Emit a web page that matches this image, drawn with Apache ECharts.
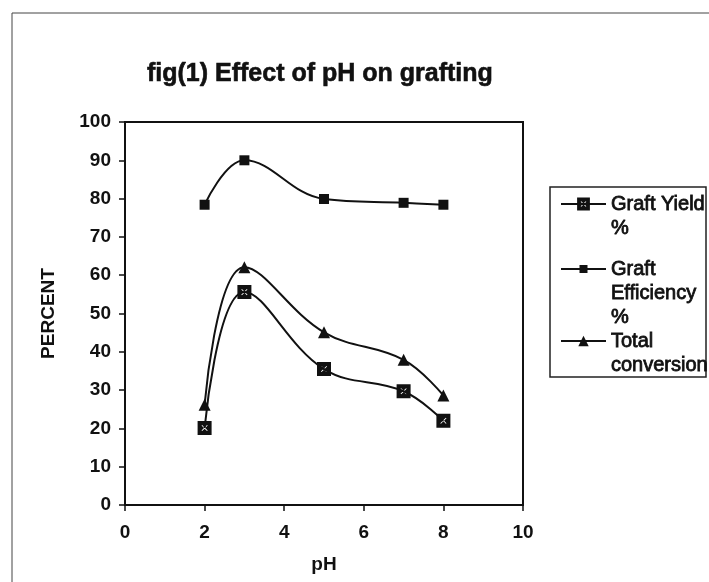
<!DOCTYPE html>
<html>
<head>
<meta charset="utf-8">
<script src="https://cdn.jsdelivr.net/npm/echarts@6/dist/echarts.min.js"></script>
<style>
  html, body { margin: 0; padding: 0; background: #fff; }
  #chart { width: 709px; height: 582px; }
</style>
</head>
<body>
<div id="chart"></div>
<script>
// data
const phValues = [2, 3, 5, 7, 8]
const graftYield = [20.1, 55.6, 35.5, 29.7, 22.0]
const graftEfficiency = [78.4, 90.0, 79.9, 78.9, 78.4]
const totalConversion = [26.2, 62.1, 45.1, 37.9, 28.6]

const seriesNames = ['Graft Yield\n%', 'Graft\nEfficiency\n%', 'Total\nconversion']

// black square with a thin white cross cut out
const crossSquare = 'path://M0,0L10,0L10,10L0,10Z' +
  'M2.8,3.25L4.55,5L2.8,6.75L3.25,7.2L5,5.45L6.75,7.2L7.2,6.75L5.45,5L7.2,3.25L6.75,2.8L5,4.55L3.25,2.8Z'

const font = "'Liberation Sans', Arial, sans-serif"
const lineH = 24

const pairs = (ys) => phValues.map((x, i) => [x, ys[i]])

// one legend per entry; blank lines on top push the first text line level with the marker
const legendFor = (name, lines, iconY, itemHeight) => ({
  data: [name],
  left: 560,
  top: iconY - (2 * lines - 1) * lineH / 2,
  padding: 0,
  itemWidth: 45,
  itemHeight: itemHeight,
  selectedMode: false,
  formatter: (n) => ' \n'.repeat(lines - 1) + n,
  textStyle: {
    fontFamily: font,
    fontSize: 20,
    color: '#111',
    textBorderColor: '#111',
    textBorderWidth: 0.8,
    lineHeight: lineH
  }
})

const chart = echarts.init(document.getElementById('chart'))
chart.setOption({
  backgroundColor: '#fff',
  animation: false,
  title: {
    text: 'fig(1) Effect of pH on grafting',
    left: 147,
    top: 62,
    padding: 0,
    textStyle: {
      fontFamily: font, fontSize: 25, fontWeight: 'bold', color: '#111',
      textBorderColor: '#111', textBorderWidth: 0.6
    }
  },
  legend: [
    legendFor(seriesNames[0], 2, 204, 16),
    legendFor(seriesNames[1], 3, 269, 10),
    legendFor(seriesNames[2], 2, 341, 13)
  ],
  graphic: [
    { type: 'rect', shape: { x: 12, y: 13, width: 760, height: 640 },
      style: { fill: 'none', stroke: '#444', lineWidth: 1 }, silent: true },
    { type: 'rect', shape: { x: 550, y: 187, width: 156, height: 190 },
      style: { fill: 'none', stroke: '#222', lineWidth: 1.5 }, silent: true }
  ],
  grid: {
    left: 125, right: 186, top: 122, bottom: 77,
    show: true, borderColor: '#111', borderWidth: 2, backgroundColor: 'transparent'
  },
  xAxis: {
    type: 'value',
    min: 0, max: 10, interval: 2,
    name: 'pH',
    nameLocation: 'middle',
    nameGap: 50,
    nameTextStyle: { fontFamily: font, fontSize: 19, fontWeight: 'bold', color: '#111' },
    axisLine: { lineStyle: { color: '#111', width: 2 } },
    axisTick: { inside: false, length: 6, lineStyle: { color: '#111', width: 1.5 } },
    axisLabel: { margin: 18, fontFamily: font, fontSize: 19, fontWeight: 'bold', color: '#111' },
    splitLine: { show: false }
  },
  yAxis: {
    type: 'value',
    min: 0, max: 100, interval: 10,
    name: 'PERCENT',
    nameLocation: 'middle',
    nameGap: 67,
    nameTextStyle: { fontFamily: font, fontSize: 19, fontWeight: 'bold', color: '#111' },
    axisLine: { lineStyle: { color: '#111', width: 2 } },
    axisTick: { inside: false, length: 6, lineStyle: { color: '#111', width: 1.5 } },
    axisLabel: { margin: 14, fontFamily: font, fontSize: 19, fontWeight: 'bold', color: '#111' },
    splitLine: { show: false }
  },
  series: [
    {
      name: seriesNames[0],
      type: 'line',
      data: pairs(graftYield),
      smooth: 0.4,
      symbol: crossSquare,
      symbolSize: 14,
      itemStyle: { color: '#111' },
      lineStyle: { color: '#111', width: 2 }
    },
    {
      name: seriesNames[1],
      type: 'line',
      data: pairs(graftEfficiency),
      smooth: 0.4,
      symbol: 'rect',
      symbolSize: 10,
      itemStyle: { color: '#111' },
      lineStyle: { color: '#111', width: 2 }
    },
    {
      name: seriesNames[2],
      type: 'line',
      data: pairs(totalConversion),
      smooth: 0.4,
      symbol: 'triangle',
      symbolSize: 12,
      itemStyle: { color: '#111' },
      lineStyle: { color: '#111', width: 2 }
    }
  ]
})
</script>
</body>
</html>
